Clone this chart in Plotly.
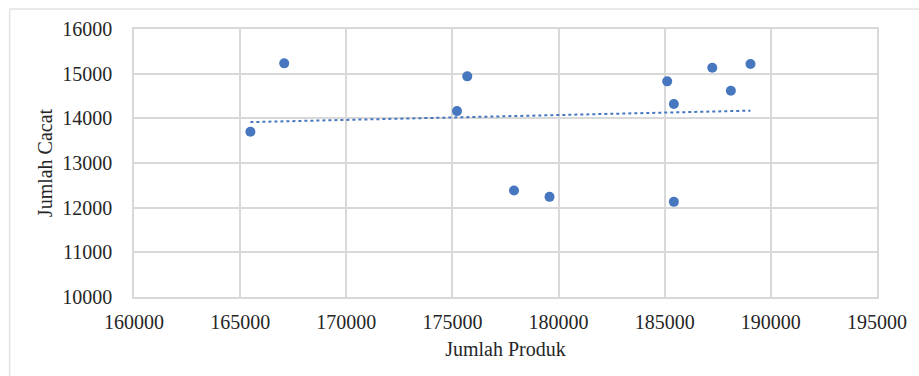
import numpy as np
import plotly.graph_objects as go

jumlah_produk = [165483, 167076, 175216, 175698, 177901, 179574,
                 185117, 185431, 185431, 187240, 188116, 189040]
jumlah_cacat = [13698, 15231, 14162, 14940, 12385, 12242,
                14828, 14319, 12130, 15133, 14617, 15216]
x_ticks = [160000, 165000, 170000, 175000, 180000, 185000, 190000, 195000]
y_ticks = [10000, 11000, 12000, 13000, 14000, 15000, 16000]

# linear trendline (least squares), spanning the data range
slope, intercept = np.polyfit(jumlah_produk, jumlah_cacat, 1)
tx = [min(jumlah_produk), max(jumlah_produk)]
ty = [slope * v + intercept for v in tx]

blue = "#4677BF"
grid = "#D9D9D9"
font_family = "Liberation Serif, Times New Roman, serif"

fig = go.Figure()
fig.add_trace(go.Scatter(x=tx, y=ty, mode="lines",
                         line=dict(color=blue, width=2, dash="dot"),
                         hoverinfo="skip", showlegend=False))
fig.add_trace(go.Scatter(x=jumlah_produk, y=jumlah_cacat, mode="markers",
                         marker=dict(color=blue, size=10),
                         showlegend=False))

W, H = 919, 376
ml, mt, mr, mb = 134, 29, 38, 79
pw = W - ml - mr
ph = H - mt - mb
bx = (9 - ml) / pw
by = 1 + (mt - 9) / ph

fig.update_layout(
    width=W, height=H,
    margin=dict(l=ml, r=mr, t=mt, b=mb),
    paper_bgcolor="white", plot_bgcolor="white",
    font=dict(family=font_family, size=20, color="#262626"),
    xaxis=dict(range=[160000, 195000], tickvals=x_ticks,
               ticktext=[str(v) for v in x_ticks],
               showgrid=True, gridcolor=grid, gridwidth=1.5,
               showline=True, linecolor=grid, linewidth=1.5, mirror=True,
               zeroline=False, ticks="", ticklen=0, ticklabelstandoff=6,
               title=dict(text="Jumlah Produk", font=dict(size=20), standoff=10)),
    yaxis=dict(range=[10000, 16000], tickvals=y_ticks,
               ticktext=[str(v) for v in y_ticks],
               showgrid=True, gridcolor=grid, gridwidth=1.5,
               showline=True, linecolor=grid, linewidth=1.5, mirror=True,
               zeroline=False, ticks="", ticklen=0, ticklabelstandoff=16,
               title=dict(text="Jumlah Cacat", font=dict(size=20), standoff=4)),
    shapes=[
        dict(type="line", xref="paper", yref="paper", x0=bx, x1=bx,
             y0=-0.5, y1=by, line=dict(color="#E3E3E3", width=1.5)),
        dict(type="line", xref="paper", yref="paper", x0=bx, x1=1.2,
             y0=by, y1=by, line=dict(color="#E3E3E3", width=1.5)),
    ],
)

fig.write_html("out.html")
